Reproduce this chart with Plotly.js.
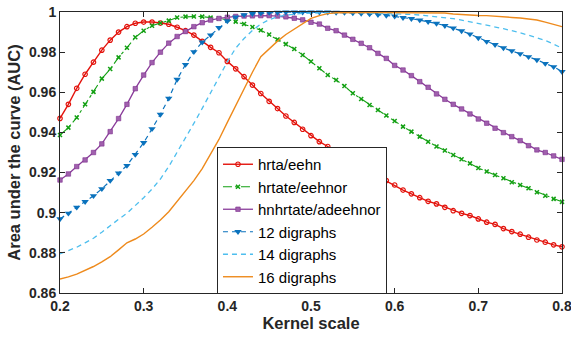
<!DOCTYPE html>
<html>
<head>
<meta charset="utf-8">
<script src="https://cdn.plot.ly/plotly-3.0.1.min.js"></script>
<style>html,body{margin:0;padding:0;background:#fff;}#chart{width:571px;height:337px;}</style>
</head>
<body>
<div id="chart"></div>
<script>
const kernelScale = [0.20,0.21,0.22,0.23,0.24,0.25,0.26,0.27,0.28,0.29,0.30,0.31,0.32,0.33,0.34,0.35,0.36,0.37,0.38,0.39,0.40,0.41,0.42,0.43,0.44,0.45,0.46,0.47,0.48,0.49,0.50,0.51,0.52,0.53,0.54,0.55,0.56,0.57,0.58,0.59,0.60,0.61,0.62,0.63,0.64,0.65,0.66,0.67,0.68,0.69,0.70,0.71,0.72,0.73,0.74,0.75,0.76,0.77,0.78,0.79,0.80];

const hrtaEehn = [0.947,0.954,0.962,0.969,0.975,0.981,0.986,0.990,0.9927,0.9944,0.9950,0.9950,0.9945,0.9939,0.9924,0.9907,0.9885,0.9854,0.9824,0.9797,0.9754,0.9717,0.9678,0.9636,0.9594,0.9555,0.9519,0.9482,0.9450,0.9416,0.9384,0.9354,0.9330,0.9302,0.9276,0.9250,0.9226,0.9203,0.9181,0.9160,0.9138,0.9113,0.9094,0.9075,0.9057,0.9044,0.9027,0.9010,0.8997,0.8986,0.8969,0.8953,0.8942,0.8921,0.8906,0.8893,0.8878,0.8864,0.8853,0.8840,0.8830];

const hrtateEehnor = [0.9387,0.9424,0.9474,0.9540,0.9602,0.9668,0.9716,0.9774,0.9822,0.9874,0.9907,0.9932,0.9945,0.9957,0.9973,0.9977,0.9978,0.9977,0.9972,0.9968,0.9962,0.9952,0.9940,0.9925,0.9909,0.9888,0.9863,0.9840,0.9816,0.9786,0.9753,0.9720,0.9686,0.9661,0.9631,0.9595,0.9567,0.9537,0.9512,0.9484,0.9457,0.9429,0.9404,0.9379,0.9354,0.9330,0.9310,0.9288,0.9266,0.9246,0.9223,0.9205,0.9188,0.9172,0.9152,0.9138,0.9122,0.9102,0.9085,0.9069,0.9054];

const hnhrtateAdeehnor = [0.9163,0.9193,0.9230,0.9263,0.9300,0.9343,0.9404,0.9469,0.9540,0.9618,0.9686,0.9748,0.9800,0.9845,0.9878,0.9903,0.9927,0.9947,0.9960,0.9968,0.9974,0.9978,0.9980,0.9981,0.9982,0.9982,0.9980,0.9976,0.9969,0.9961,0.9949,0.9940,0.9919,0.9907,0.9885,0.9864,0.9844,0.9822,0.9794,0.9769,0.9734,0.9711,0.9683,0.9653,0.9625,0.9592,0.9565,0.9540,0.9517,0.9492,0.9467,0.9446,0.9421,0.9399,0.9379,0.9359,0.9334,0.9313,0.9300,0.9283,0.9266];

const digraphs12 = [0.8969,0.8997,0.9027,0.9055,0.9084,0.9119,0.9160,0.9197,0.9235,0.9290,0.9349,0.9418,0.9490,0.9570,0.9664,0.9738,0.9802,0.9850,0.9885,0.9922,0.9955,0.9975,0.9986,0.9992,0.9995,0.9997,0.9998,0.9999,0.9999,0.9999,0.9999,0.9999,0.9999,0.9998,0.9997,0.9995,0.9993,0.9990,0.9987,0.9983,0.9979,0.9972,0.9967,0.9960,0.9952,0.9943,0.9932,0.9920,0.9906,0.9890,0.9871,0.9853,0.9837,0.9821,0.9807,0.9792,0.9777,0.9761,0.9743,0.9727,0.9703];

const digraphs14 = [0.8795,0.8810,0.8828,0.8850,0.8873,0.8903,0.8937,0.8967,0.8997,0.9035,0.9075,0.9118,0.9168,0.9230,0.9300,0.9375,0.9445,0.9520,0.9600,0.9680,0.9752,0.9820,0.9868,0.9908,0.9940,0.9962,0.9976,0.9985,0.9990,0.9993,0.9995,0.9996,0.9997,0.9997,0.9997,0.9997,0.9996,0.9995,0.9994,0.9993,0.9992,0.9990,0.9988,0.9985,0.9981,0.9977,0.9973,0.9967,0.9960,0.9952,0.9943,0.9934,0.9926,0.9917,0.9907,0.9897,0.9885,0.9872,0.9858,0.9840,0.9820];

const digraphs16 = [0.8670,0.8680,0.8694,0.8712,0.8732,0.8755,0.8781,0.8815,0.8850,0.8869,0.8894,0.8928,0.8964,0.9005,0.9055,0.9105,0.9160,0.9220,0.9290,0.9365,0.9450,0.9535,0.9620,0.9700,0.9777,0.9818,0.9855,0.9888,0.9915,0.9943,0.9968,0.9982,0.9992,0.9996,0.9997,0.9997,0.9997,0.9997,0.9997,0.9997,0.9997,0.9997,0.9997,0.9997,0.9997,0.9997,0.9995,0.9990,0.9987,0.9985,0.9983,0.9982,0.9980,0.9977,0.9973,0.9970,0.9966,0.9960,0.9950,0.9940,0.9927];

const seriesNames = ['hrta/eehn','hrtate/eehnor','hnhrtate/adeehnor','12 digraphs','14 digraphs','16 digraphs'];

const xTickVals = [0.2,0.3,0.4,0.5,0.6,0.7,0.8];
const xTickText = ['0.2','0.3','0.4','0.5','0.6','0.7','0.8'];
const yTickVals = [0.86,0.88,0.90,0.92,0.94,0.96,0.98,1.0];
const yTickText = ['0.86','0.88','0.9','0.92','0.94','0.96','0.98','1'];

const traces = [
  {x: kernelScale, y: hrtaEehn, name: seriesNames[0], mode: 'lines+markers',
   line: {color: '#e3120b', width: 1.4},
   marker: {symbol: 'circle-open', size: 4.5, color: '#e3120b', line: {width: 1.2}}},
  {x: kernelScale, y: hrtateEehnor, name: seriesNames[1], mode: 'lines+markers',
   line: {color: '#13a013', width: 1.1, dash: 'dashdot'},
   marker: {symbol: 'x-thin-open', size: 4, color: '#13a013', line: {width: 1.5, color: '#13a013'}}},
  {x: kernelScale, y: hnhrtateAdeehnor, name: seriesNames[2], mode: 'lines+markers',
   line: {color: '#8a3c9a', width: 1.3},
   marker: {symbol: 'square', size: 4.5, color: '#a060ad', line: {width: 0.6, color: '#7E2F8E'}}},
  {x: kernelScale, y: digraphs12, name: seriesNames[3], mode: 'lines+markers',
   line: {color: '#0a72bd', width: 1.2, dash: '5px,4px'},
   marker: {symbol: 'triangle-down', size: 6.5, color: '#0a72bd'}},
  {x: kernelScale, y: digraphs14, name: seriesNames[4], mode: 'lines',
   line: {color: '#4dbeee', width: 1.3, dash: '5px,4px'}},
  {x: kernelScale, y: digraphs16, name: seriesNames[5], mode: 'lines',
   line: {color: '#ee8a1c', width: 1.4}}
];
traces.forEach(t => { t.cliponaxis = false; });

const axisFont = {family: 'Liberation Sans, Arial, sans-serif', size: 14, color: '#262626', weight: 'bold'};
const titleFont = {family: 'Liberation Sans, Arial, sans-serif', size: 16.5, color: '#262626', weight: 'bold'};

const layout = {
  width: 571, height: 337,
  margin: {l: 60, r: 9, t: 12, b: 44, pad: 0},
  paper_bgcolor: '#ffffff', plot_bgcolor: '#ffffff',
  showlegend: true,
  xaxis: {
    range: [0.2, 0.80001], tickvals: xTickVals, ticktext: xTickText,
    ticks: 'inside', ticklen: 5, tickwidth: 1, tickcolor: '#262626',
    showline: true, linecolor: '#262626', linewidth: 1, mirror: 'ticks',
    showgrid: false, zeroline: false, tickfont: axisFont, ticklabeloverflow: 'allow',
    title: {text: 'Kernel scale', font: titleFont, standoff: 4}
  },
  yaxis: {
    range: [0.86, 1.00001], tickvals: yTickVals, ticktext: yTickText,
    ticks: 'inside', ticklen: 5, tickwidth: 1, tickcolor: '#262626',
    showline: true, linecolor: '#262626', linewidth: 1, mirror: 'ticks',
    showgrid: false, zeroline: false, tickfont: axisFont, ticklabeloverflow: 'allow',
    title: {text: 'Area under the curve (AUC)', font: titleFont, standoff: 4}
  },
  legend: {
    x: 0.3127, y: 0.5196, xanchor: 'left', yanchor: 'top',
    bgcolor: '#ffffff', bordercolor: '#262626', borderwidth: 1,
    font: {family: 'Liberation Sans, Arial, sans-serif', size: 15, color: '#000000'},
    tracegroupgap: 0, itemwidth: 30
  }
};

Plotly.newPlot('chart', traces, layout, {displayModeBar: false, staticPlot: true});
</script>
</body>
</html>
